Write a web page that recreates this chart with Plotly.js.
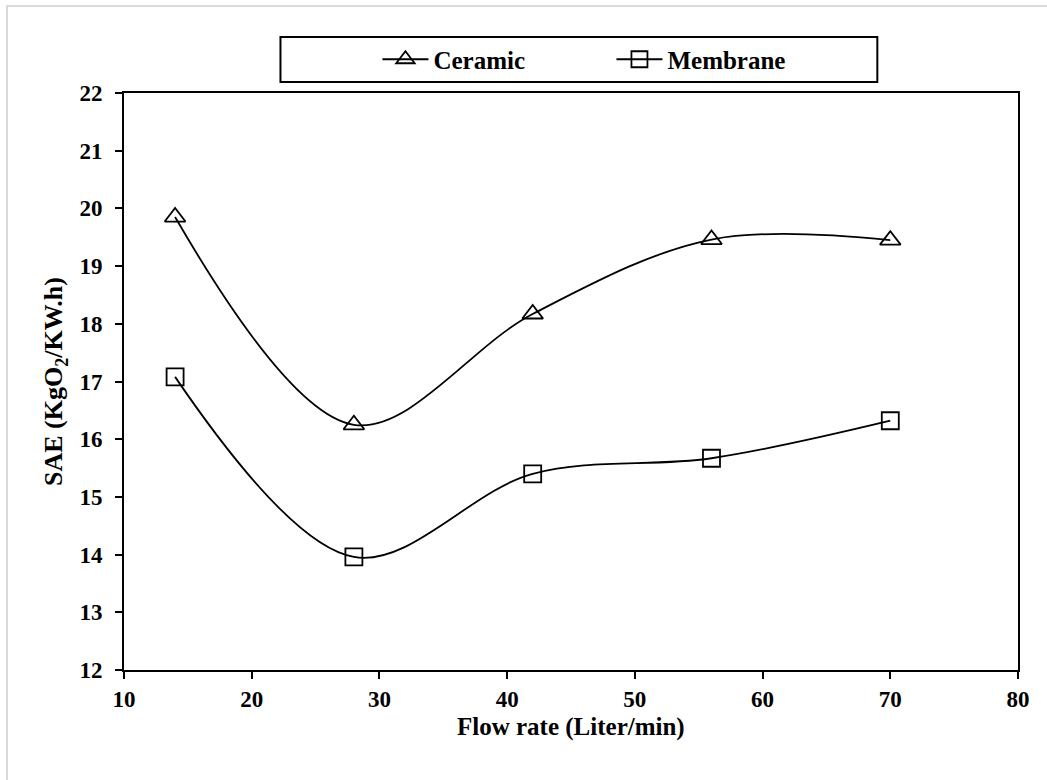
<!DOCTYPE html>
<html>
<head>
<meta charset="utf-8">
<script src="https://cdn.plot.ly/plotly-3.0.1.min.js"></script>
<style>
  html, body { margin: 0; padding: 0; background: #ffffff; }
  #frame { position: absolute; left: 6px; top: 5px; width: 1200px; height: 900px;
           border-left: 2px solid #d9d9d9; border-top: 2px solid #d9d9d9; }
  #chart { position: absolute; left: 0; top: 0; width: 1047px; height: 780px; }
</style>
</head>
<body>
<div id="frame"></div>
<div id="chart"></div>
<script>
// Data
const flowRate = [14, 28, 42, 56, 70];
const ceramic = [19.85, 16.25, 18.17, 19.46, 19.45];
const membrane = [17.08, 13.96, 15.40, 15.67, 16.32];
const seriesNames = ["Ceramic", "Membrane"];
const xTickVals = [10, 20, 30, 40, 50, 60, 70, 80];
const yTickVals = [12, 13, 14, 15, 16, 17, 18, 19, 20, 21, 22];
const xTitle = "Flow rate (Liter/min)";
const yTitle = "SAE (KgO<sub>2</sub>/KW.h)";

const FONT = "Liberation Serif, Times New Roman, serif";

const traces = [
  {
    x: flowRate, y: ceramic, name: seriesNames[0],
    type: "scatter", mode: "lines+markers",
    line: { color: "#000000", width: 1.8, shape: "spline", smoothing: 1 },
    marker: { symbol: "triangle-up-open", size: 18, color: "#000000", line: { width: 1.8, color: "#000000" } }
  },
  {
    x: flowRate, y: membrane, name: seriesNames[1],
    type: "scatter", mode: "lines+markers",
    line: { color: "#000000", width: 1.8, shape: "spline", smoothing: 1 },
    marker: { symbol: "square-open", size: 17, color: "#000000", line: { width: 1.8, color: "#000000" } }
  }
];

const L = 123.5, R = 1017.7, T = 93, B = 670;
const W = 1047, H = 780;
const pw = R - L, ph = B - T;
function px2x(p) { return (p - L) / pw; }
function px2y(p) { return (B - p) / ph; }

const layout = {
  width: W, height: H,
  margin: { l: L, r: W - R, t: T, b: H - B, pad: 0 },
  paper_bgcolor: "rgba(0,0,0,0)",
  plot_bgcolor: "rgba(0,0,0,0)",
  font: { family: FONT, size: 23, color: "#000000", weight: "bold" },
  showlegend: true,
  legend: {
    orientation: "h",
    x: px2x(377), y: px2y(59.5), xanchor: "left", yanchor: "middle",
    bgcolor: "rgba(0,0,0,0)", borderwidth: 0,
    font: { family: FONT, size: 25, color: "#000000", weight: "bold" },
    itemwidth: 46,
    entrywidth: 173, entrywidthmode: "pixels"
  },
  xaxis: {
    range: [10, 80], tickvals: xTickVals, ticktext: xTickVals.map(String),
    showgrid: false, zeroline: false,
    showline: true, linecolor: "#000000", linewidth: 2, mirror: true,
    ticks: "outside", ticklen: 7, tickwidth: 2, tickcolor: "#000000",
    tickfont: { family: FONT, size: 23, color: "#000000", weight: "bold" },
    ticklabelstandoff: 0
  },
  yaxis: {
    range: [12, 22], tickvals: yTickVals, ticktext: yTickVals.map(String),
    showgrid: false, zeroline: false,
    showline: true, linecolor: "#000000", linewidth: 2, mirror: true,
    ticks: "outside", ticklen: 7, tickwidth: 2, tickcolor: "#000000",
    tickfont: { family: FONT, size: 23, color: "#000000", weight: "bold" },
    ticklabelstandoff: 8,
    title: { text: yTitle, standoff: 9,
             font: { family: FONT, size: 26, color: "#000000", weight: "bold" } }
  },
  annotations: [
    { text: xTitle, xref: "paper", yref: "paper", x: 0.5, y: px2y(727),
      xanchor: "center", yanchor: "middle", showarrow: false,
      font: { family: FONT, size: 25, color: "#000000", weight: "bold" } }
  ],
  shapes: [
    { type: "rect", xref: "paper", yref: "paper",
      x0: px2x(280), x1: px2x(877), y0: px2y(82), y1: px2y(37),
      line: { color: "#000000", width: 2 }, fillcolor: "rgba(0,0,0,0)", layer: "above" }
  ]
};

Plotly.newPlot("chart", traces, layout, { displayModeBar: false, staticPlot: true });
</script>
</body>
</html>
